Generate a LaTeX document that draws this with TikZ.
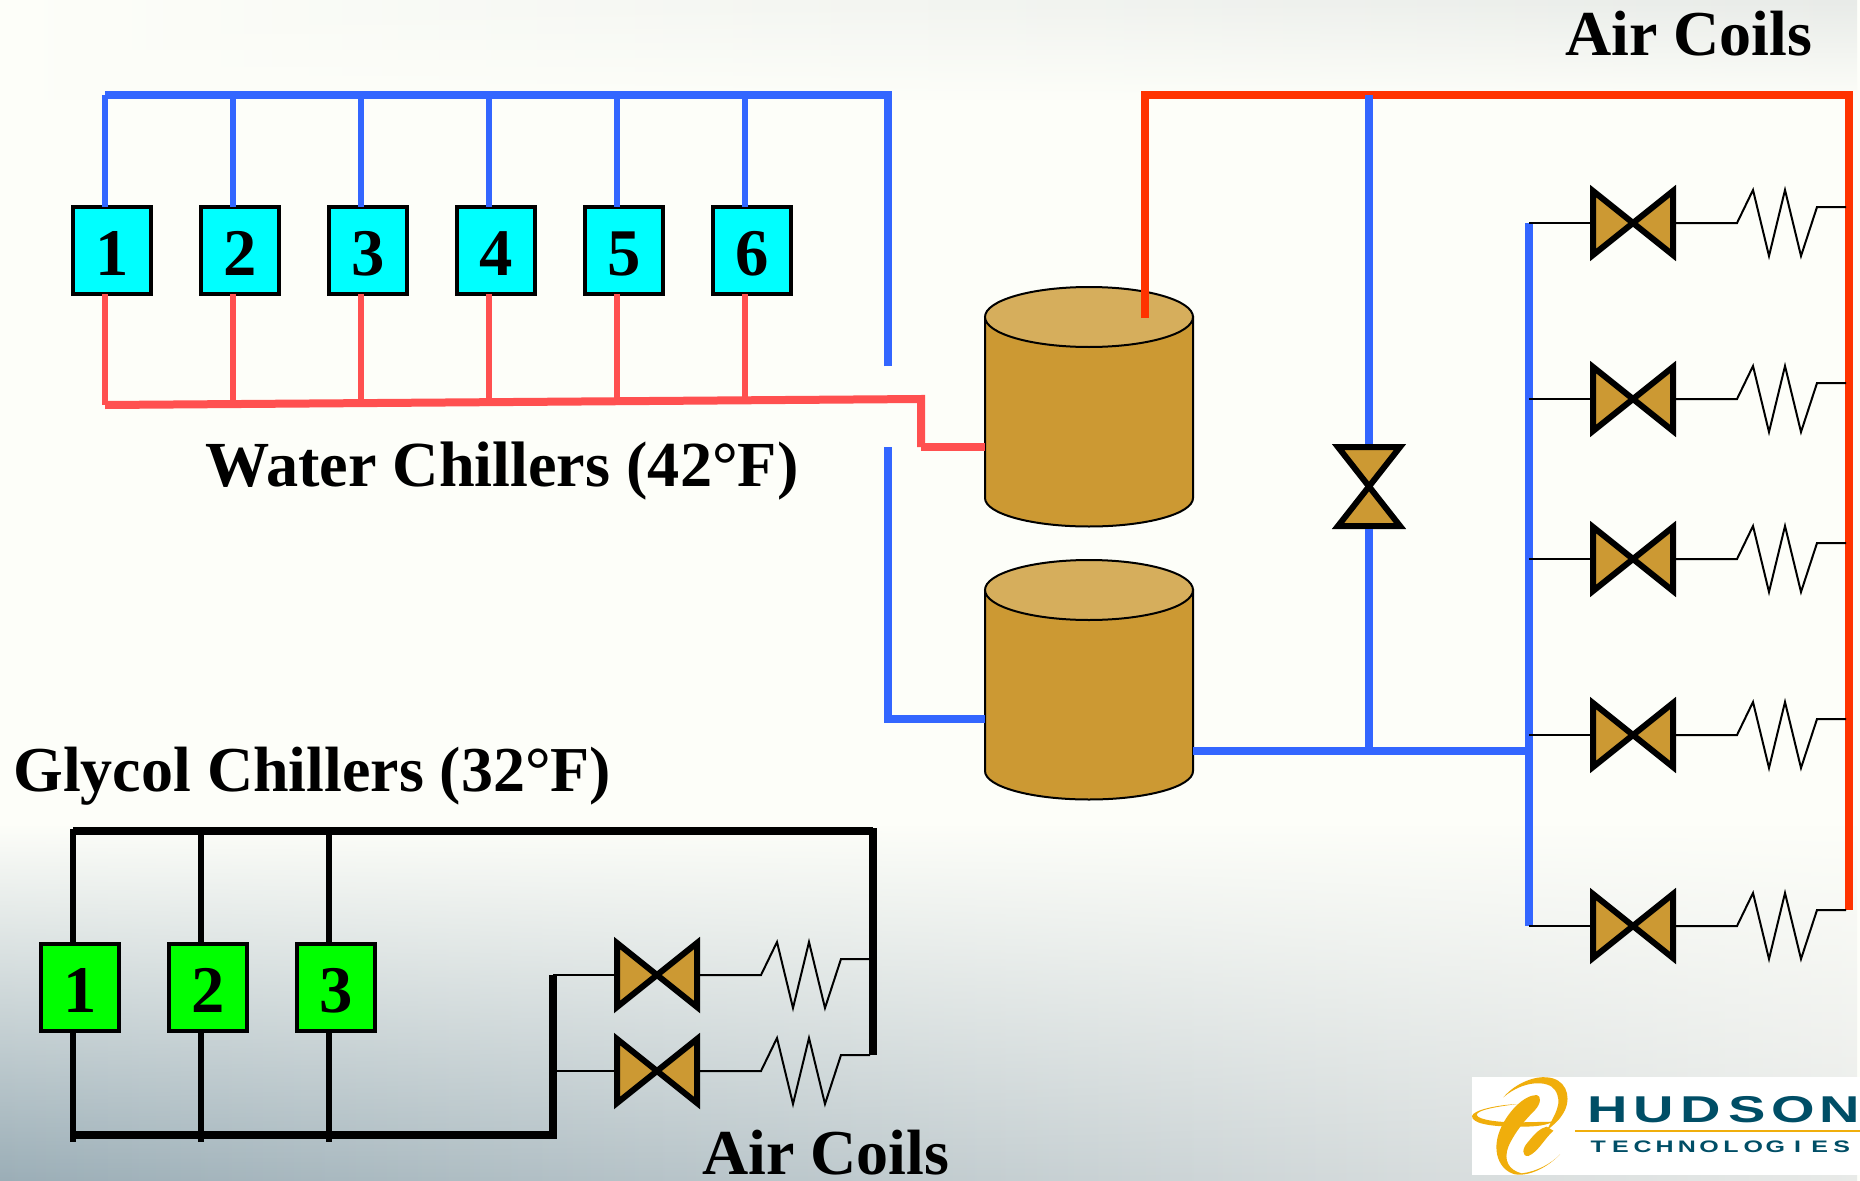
\documentclass[tikz,border=0pt]{standalone}
\usepackage{fontspec}
\setmainfont{Liberation Serif}
\newfontfamily\hudfont[FakeStretch=1.5]{Liberation Sans}
\usetikzlibrary{fadings,calc}
\tikzfading[name=fadeup,top color=transparent!100,bottom color=transparent!0]
\tikzfading[name=fadedown,top color=transparent!0,bottom color=transparent!100]
\definecolor{bgbase}{HTML}{FDFEF9}
\definecolor{topmid}{HTML}{D8DDDE}
\definecolor{topright}{HTML}{E8EBE8}
\definecolor{botleft}{HTML}{9BAEB7}
\definecolor{botmid}{HTML}{C6D0D4}
\definecolor{botright}{HTML}{E8EAE8}
\definecolor{pipeblue}{HTML}{3366FF}
\definecolor{pipered}{HTML}{FF5050}
\definecolor{hotred}{HTML}{FF3300}
\definecolor{gold}{HTML}{CC9933}
\definecolor{goldtop}{HTML}{D6AE5C}
\definecolor{hudteal}{HTML}{004E66}
\definecolor{hudgold}{HTML}{F0AE0C}
\definecolor{boxcyan}{RGB}{0,255,255}
\definecolor{boxgreen}{RGB}{0,255,0}
\def\px{0.75pt}
\newcommand{\hl}[1]{\makebox[34.9pt][c]{#1}}
\newcommand{\tl}[1]{\makebox[16.6pt][c]{#1}}
\tikzset{
 x=0.75pt,y=-0.75pt,
 labeltext/.style={font=\bfseries\fontsize{48}{48}\selectfont,anchor=base west,inner sep=0pt,text=black},
 chiller/.style={draw=black,line width=4*\px,minimum width=78*\px,minimum height=87*\px,inner sep=0pt,text height=37.6pt,text depth=0pt,font=\bfseries\fontsize{50}{50}\selectfont},
 water/.style={chiller,fill=boxcyan},
 glycol/.style={chiller,fill=boxgreen},
 bluepipe/.style={draw=pipeblue,line width=8*\px,line join=miter},
 bluedrop/.style={draw=pipeblue,line width=6*\px},
 redpipe/.style={draw=pipered,line width=8*\px,line join=miter},
 reddrop/.style={draw=pipered,line width=6*\px},
 hotpipe/.style={draw=hotred,line width=8*\px,line join=miter},
 blackbus/.style={draw=black,line width=8*\px,line join=miter},
 blackpipe/.style={draw=black,line width=5.5*\px},
 stub/.style={draw=black,line width=2.5*\px},
 coil/.style={draw=black,line width=2*\px,line join=miter},
 valvebody/.style={draw=black,fill=gold,line width=6*\px,line join=miter,miter limit=10},
 valveanchor/.style={minimum width=86*\px,minimum height=76*\px,inner sep=0pt,outer sep=0pt},
 valveanchorv/.style={minimum width=76*\px,minimum height=85*\px,inner sep=0pt,outer sep=0pt},
 tankbody/.style={draw=black,fill=gold,line width=2*\px},
 tanktop/.style={draw=black,fill=goldtop,line width=2*\px},
 tankanchor/.style={minimum width=208*\px,minimum height=239*\px,inner sep=0pt,outer sep=0pt},
}
\newcommand{\valveH}[3]{%
 \node[valveanchor] (#1) at (#2,#3) {};
 \draw[valvebody] ($(#1)+(-40,-32)$) -- ($(#1)+(40,32)$) -- ($(#1)+(40,-32)$) -- ($(#1)+(-40,32)$) -- cycle;}
\newcommand{\valveV}[3]{%
 \node[valveanchorv] (#1) at (#2,#3) {};
 \draw[valvebody] ($(#1)+(-31,-39.5)$) -- ($(#1)+(31,39.5)$) -- ($(#1)+(-31,39.5)$) -- ($(#1)+(31,-39.5)$) -- cycle;}
\newcommand{\tank}[3]{%
 \node[tankanchor] (#1) at (#2,#3) {};
 \draw[tankbody] ($(#1)+(-104,-90.5)$) -- ++(0,181)
   arc[start angle=180,end angle=360,x radius=104*\px,y radius=28.5*\px] -- ++(0,-181) -- cycle;
 \draw[tanktop] ($(#1)+(0,-90.5)$) ellipse[x radius=104*\px,y radius=30*\px];}
\begin{document}
\begin{tikzpicture}
\useasboundingbox (0,0) rectangle (1860,1181);
% background
\fill[bgbase] (0,0) rectangle (1860,1181);
\shade[left color=bgbase,middle color=topmid,right color=topright,path fading=fadedown] (0,0) rectangle (1860,100);
\shade[left color=botleft,middle color=botmid,right color=botright,path fading=fadeup] (0,825) rectangle (1860,1181);
% logo
\fill[white] (1472,1077) rectangle (1860,1175);
\begin{scope}[shift={(1440,1060)},x=0.25pt,y=-0.25pt]
 \fill[hudgold] (190,112) .. controls (230,65) and (290,48) .. (320,52)
   .. controls (375,55) and (395,105) .. (375,150)
   .. controls (360,180) and (345,190) .. (320,212)
   .. controls (345,160) and (370,130) .. (345,90)
   .. controls (325,60) and (250,60) .. (190,112) -- cycle;
 \fill[hudgold] (290,105) .. controls (305,108) and (303,130) .. (285,150)
   .. controls (255,180) and (225,215) .. (205,260)
   .. controls (190,300) and (205,330) .. (245,340)
   .. controls (290,335) and (335,310) .. (360,283)
   .. controls (325,320) and (270,350) .. (225,343)
   .. controls (175,330) and (155,270) .. (180,210)
   .. controls (200,160) and (250,105) .. (290,105) -- cycle;
 \fill[hudgold] (340,212) .. controls (310,240) and (295,275) .. (265,288)
   .. controls (245,290) and (245,265) .. (265,245)
   .. controls (285,220) and (300,205) .. (320,200) -- cycle;
 \fill[hudgold] (232,132) .. controls (170,135) and (100,150) .. (96,168)
   .. controls (95,190) and (150,200) .. (230,200)
   .. controls (270,200) and (310,200) .. (340,185)
   -- (240,187) .. controls (180,188) and (115,180) .. (110,165)
   .. controls (110,150) and (170,140) .. (232,132) -- cycle;
\end{scope}
\node[inner sep=0pt,anchor=base west,text=hudteal,font=\hudfont\bfseries\fontsize{28}{28}\selectfont] (hudson) at (1584,1122)
  {\hl{H}\hl{U}\hl{D}\hl{S}\hl{O}\hl{N}};
\node[inner sep=0pt,anchor=base west,text=hudteal,font=\hudfont\bfseries\fontsize{12.5}{13}\selectfont] (tech) at (1587,1152)
  {\tl{T}\tl{E}\tl{C}\tl{H}\tl{N}\tl{O}\tl{L}\tl{O}\tl{G}\tl{I}\tl{E}\tl{S}};
\coordinate (hudl) at (1575,1131);
\coordinate (hudr) at (1860,1131);
\draw[hudgold,line width=1.5*\px] (hudl) -- (hudr);
% coordinates
\coordinate (bTL) at (105,95);
\coordinate (bTR) at (888,95);
\coordinate (bEnd) at (888,366);
\coordinate (bStart) at (888,447);
\coordinate (rBL) at (105,405);
\coordinate (rBR) at (921,399);
\coordinate (rKnee) at (921,447);
% chillers
\foreach \n/\cx in {1/111.5,2/239.5,3/367.5,4/495.5,5/623.5,6/751.5}
  \node[water] (w\n) at (\cx,250.5) {\hspace*{1.5pt}\n};
% water chiller pipes
\draw[bluepipe] (bEnd) -- (bTR) -- (bTL);
\foreach \n/\lx in {1/105,2/233,3/361,4/489,5/617,6/745}
  \draw[bluedrop] (\lx,95) -- ($(w\n.north)+(-6.5,2)$);
\draw[redpipe] (rBL) -- (rBR) -- (rKnee);
\foreach \n/\lx/\ly in {1/105/405,2/233/404,3/361/403,4/489/402,5/617/401,6/745/400}
  \draw[reddrop] ($(w\n.south)+(-6.5,-2)$) -- (\lx,\ly);
\node[labeltext,font=\bfseries\fontsize{48.2}{48}\selectfont] (lw) at (205,486) {Water Chillers (42°F)};
\node[labeltext] (lac) at (1565,56) {Air Coils};
% tanks
\tank{t1}{1089}{407.5}
\tank{t2}{1089}{680.5}
\draw[redpipe] (rKnee) -- ($(t1.west)+(0,39.5)$);
\draw[hotpipe] (1145,318) -- (1145,95) -- (1849,95) -- (1849,910);
\draw[bluepipe] (bStart) -- (888,719) -- ($(t2.west)+(0,38.5)$);
% middle valve
\valveV{vm}{1369}{486.5}
\draw[bluepipe] (1369,95) -- (vm.north);
\draw[bluepipe] (vm.south) -- (1369,751);
\draw[bluepipe] ($(t2.east)+(0,70.5)$) -- (1529,751);
% right bus
\draw[bluepipe] (1529,223) -- (1529,926);
\foreach \v/\vy in {a/223,b/399,c/559,d/735,e/926}{
  \valveH{r\v}{1633}{\vy}
  \draw[stub] (1529,\vy) -- (r\v.west);
  \draw[coil] (r\v.east) -- ++(61,0) -- ++(16,-33) -- ++(16,66) -- ++(16,-66) -- ++(16,66) -- ++(16,-49) -- ++(29,0);
}
% glycol
\node[labeltext] (lg) at (13,791) {Glycol Chillers (32°F)};
\foreach \n/\cx in {1/80,2/208,3/336}
  \node[glycol] (g\n) at (\cx,987) {\n};
\coordinate (gTL) at (73,831);
\coordinate (gTR) at (873,831);
\coordinate (gBL) at (73,1135);
\coordinate (gBR) at (553,1135);
\draw[blackbus] (gTL) -- (gTR);
\draw[blackbus] (gBL) -- (gBR);
\foreach \n/\lx in {1/73,2/201,3/329}{
  \draw[blackpipe] (\lx,829) -- (g\n.north -| \lx,0);
  \draw[blackpipe] (g\n.south -| \lx,0) -- (\lx,1142);
}
\draw[blackbus] (553,1139) -- (553,975);
\draw[blackbus] (873,828) -- (873,1055);
\foreach \v/\vy in {a/975,b/1071}{
  \valveH{k\v}{657}{\vy}
  \draw[stub] (553,\vy) -- (k\v.west);
  \draw[coil] (k\v.east) -- ++(61,0) -- ++(16,-33) -- ++(16,66) -- ++(16,-66) -- ++(16,66) -- ++(16,-49) -- ++(29,0);
}
\node[labeltext] (lac2) at (702,1174) {Air Coils};
\end{tikzpicture}
\end{document}
